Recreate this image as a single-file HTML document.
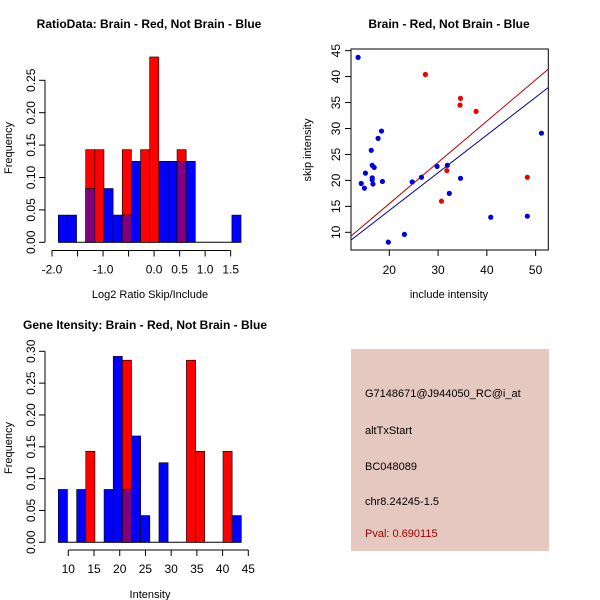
<!DOCTYPE html>
<html><head><meta charset="utf-8"><style>
body{margin:0;background:#fff}
svg{display:block;font-family:"Liberation Sans",sans-serif}
</style></head><body>
<svg id="s" width="600" height="600" viewBox="0 0 600 600">
<rect x="351" y="349" width="198" height="202" fill="#e5c8c0"/>
<g font-size="11" fill="#000">
<text x="365" y="397">G7148671@J944050_RC@i_at</text>
<text x="365" y="434">altTxStart</text>
<text x="365" y="470">BC048089</text>
<text x="365" y="505">chr8.24245-1.5</text>
<text x="365" y="537" fill="#a00000">Pval: 0.690115</text>
</g>
</svg>
<script>
// ---- Chart 1 data (ratio histogram)
const ratioBinStart = -1.877;
const ratioBinWidth = 0.179;
const ratioRed  = [0,0,0,0.143,0.143,0,0,0.143,0,0.143,0.286,0,0,0.143,0,0,0,0,0,0];
const ratioBlue = [0.042,0.042,0,0.083,0,0.083,0.042,0.042,0.125,0,0,0.125,0.125,0.125,0.125,0,0,0,0,0.042];
const ratioXTicks = [-2,-1.5,-1,-0.5,0,0.5,1,1.5];
const ratioXLabels = ["-2.0","","-1.0","","0.0","0.5","1.0","1.5"];
const ratioYTicks = [0,0.05,0.10,0.15,0.20,0.25];
const ratioYLabels = ["0.00","0.05","0.10","0.15","0.20","0.25"];
// ---- Chart 2 data (scatter)
const blueX = [13.6,14.25,14.9,15.1,16.3,16.5,16.9,16.5,16.5,16.65,17.7,18.4,18.6,19.8,23.1,24.7,26.6,29.8,31.9,32.3,34.6,40.8,48.3,51.2];
const blueY = [43.7,19.4,18.5,21.4,25.8,22.9,22.5,20.5,20.1,19.3,28.1,29.5,19.8,8.1,9.6,19.7,20.6,22.7,22.9,17.5,20.4,12.9,13.1,29.1];
const redX = [27.4,34.5,34.6,37.8,31.8,30.7,48.3];
const redY = [40.4,34.5,35.8,33.3,21.9,16.0,20.6];
const redLine = [-0.38,0.795];   // intercept, slope
const blueLine = [-0.32,0.7265];
const scatXTicks = [20,30,40,50];
const scatYTicks = [10,15,20,25,30,35,40,45];
// ---- Chart 3 data (intensity histogram)
const intBinStart = 8.06;
const intBinWidth = 1.779;
const intRed  = [0,0,0,0.143,0,0,0,0.286,0,0,0,0,0,0,0.286,0.143,0,0,0.143,0];
const intBlue = [0.083,0,0.083,0,0,0.083,0.292,0.083,0.167,0.042,0,0.125,0,0,0,0,0,0,0,0.042];
const intXTicks = [10,15,20,25,30,35,40,45];
const intYTicks = [0,0.05,0.10,0.15,0.20,0.25,0.30];
const intYLabels = ["0.00","0.05","0.10","0.15","0.20","0.25","0.30"];

const svg = document.getElementById('s');
const NS = 'http://www.w3.org/2000/svg';
function mk(tag, attrs, parent){const e=document.createElementNS(NS,tag);for(const k in attrs)e.setAttribute(k,attrs[k]);(parent||svg).appendChild(e);return e;}
function txt(x,y,s,attrs,parent){const t=mk('text',Object.assign({x:x,y:y,'font-size':12,'text-anchor':'middle'},attrs||{}),parent);t.textContent=s;return t;}

function hist(g, binStart, binW, red, blue, sx, sy, y0){
  const n = red.length;
  mk('line',{x1:sx(binStart),x2:sx(binStart+n*binW),y1:y0,y2:y0,stroke:'#000'},g);
  for(let i=0;i<n;i++){
    const x1=sx(binStart+i*binW), x2=sx(binStart+(i+1)*binW);
    const draw=(v,col,name)=>{ if(v<=0) return;
      const r=mk('rect',{x:x1,y:sy(v),width:x2-x1,height:y0-sy(v),fill:col,stroke:'#000','stroke-width':0.6},g);
      
      
    };
    draw(red[i],'#ff0000','bar-red-'+i);
    draw(blue[i],'#0000ff','bar-blue-'+i);
    const ov=Math.min(red[i],blue[i]);
    draw(ov,'#800080','bar-overlap-'+i);
  }
}
function yAxis(g, x, ticks, labels, sy){
  mk('line',{x1:x,x2:x,y1:sy(ticks[0]),y2:sy(ticks[ticks.length-1]),stroke:'#000'},g);
  ticks.forEach((t,i)=>{
    mk('line',{x1:x-6,x2:x,y1:sy(t),y2:sy(t),stroke:'#000'},g);
    txt(x-10,sy(t),labels[i],{transform:`rotate(-90 ${x-10} ${sy(t)})`},g);
  });
}
function xAxis(g, y, ticks, labels, sx){
  mk('line',{x1:sx(ticks[0]),x2:sx(ticks[ticks.length-1]),y1:y,y2:y,stroke:'#000'},g);
  ticks.forEach((t,i)=>{
    mk('line',{x1:sx(t),x2:sx(t),y1:y,y2:y+6,stroke:'#000'},g);
    if(labels[i]) txt(sx(t),y+23,labels[i],{},g);
  });
}

// Chart 1
{
  const g=mk('g',{});
  
  
  const sx=v=>52+(v+2)*51.05, sy=v=>242.3-v*648;
  hist(g,ratioBinStart,ratioBinWidth,ratioRed,ratioBlue,sx,sy,242.3);
  yAxis(g,45,ratioYTicks,ratioYLabels,sy);
  xAxis(g,250.5,ratioXTicks,ratioXLabels,sx);
  const t=txt(149,28,'RatioData: Brain - Red, Not Brain - Blue',{'font-weight':'bold','font-size':12},g);
  
  
  const yl=txt(12,148,'Frequency',{'font-size':11,transform:'rotate(-90 12 148)'},g);
  
  
  const xl=txt(150,298,'Log2 Ratio Skip/Include',{'font-size':11},g);
  
  
}
// Chart 2
{
  const g=mk('g',{});
  
  
  const sx=v=>389.3+(v-20)*4.877, sy=v=>232.3-(v-10)*5.19;
  const xmin=12.14,xmax=52.6;
  mk('rect',{x:351,y:49,width:197.3,height:201,fill:'none',stroke:'#000'},g);
  [[redLine,'#b00000','fit-line-red'],[blueLine,'#00008b','fit-line-blue']].forEach(([l,c,n])=>{
    const ln=mk('line',{x1:sx(xmin),y1:sy(l[0]+l[1]*xmin),x2:sx(xmax),y2:sy(l[0]+l[1]*xmax),stroke:c},g);
    
    
  });
  blueX.forEach((x,i)=>{const c=mk('circle',{cx:sx(x),cy:sy(blueY[i]),r:2.6,fill:'#0000dd'},g);
    
    });
  redX.forEach((x,i)=>{const c=mk('circle',{cx:sx(x),cy:sy(redY[i]),r:2.6,fill:'#ee0000'},g);
    
    });
  scatXTicks.forEach(t=>{mk('line',{x1:sx(t),x2:sx(t),y1:250,y2:256,stroke:'#000'},g);txt(sx(t),274,String(t),{},g);});
  scatYTicks.forEach(t=>{mk('line',{x1:345,x2:351,y1:sy(t),y2:sy(t),stroke:'#000'},g);txt(340,sy(t),String(t),{transform:`rotate(-90 340 ${sy(t)})`},g);});
  const t=txt(449,28,'Brain - Red, Not Brain - Blue',{'font-weight':'bold','font-size':12},g);
  
  
  const yl=txt(311,150,'skip intensity',{'font-size':11,transform:'rotate(-90 311 150)'},g);
  
  
  const xl=txt(449,298,'include intensity',{'font-size':11},g);
  
  
}
// Chart 3
{
  const g=mk('g',{});
  
  
  const sx=v=>68.3+(v-10)*5.143, sy=v=>542.3-v*636.7;
  hist(g,intBinStart,intBinWidth,intRed,intBlue,sx,sy,542.3);
  yAxis(g,45,intYTicks,intYLabels,sy);
  xAxis(g,550,intXTicks,intXTicks.map(String),sx);
  const t=txt(145,329,'Gene Itensity: Brain - Red, Not Brain - Blue',{'font-weight':'bold','font-size':12},g);
  
  
  const yl=txt(12,448,'Frequency',{'font-size':11,transform:'rotate(-90 12 448)'},g);
  
  
  const xl=txt(150,598,'Intensity',{'font-size':11},g);
  
  
}
</script>
</body></html>
